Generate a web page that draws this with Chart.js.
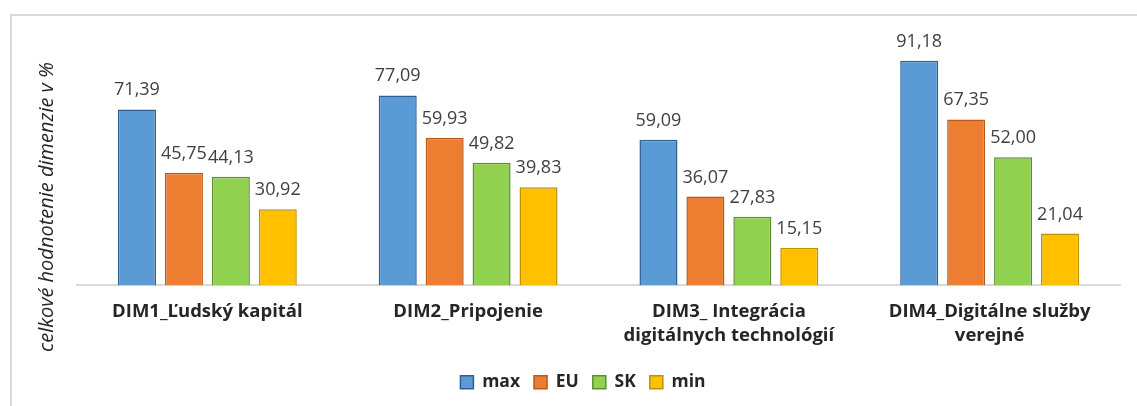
<!DOCTYPE html>
<html>
<head>
<meta charset="utf-8">
<script src="https://cdn.jsdelivr.net/npm/chart.js@4.4.1/dist/chart.umd.min.js"></script>
<style>
  html, body { margin: 0; padding: 0; background: #fff; }
  #wrap { position: relative; width: 1137px; height: 406px; overflow: hidden; }
  #frame { position: absolute; left: 10px; top: 14px; width: 1200px; height: 500px;
           border-top: 2px solid #d9d9d9; border-left: 2px solid #d9d9d9; }
  canvas { position: absolute; left: 0; top: 0; }
</style>
</head>
<body>
<div id="wrap">
  <div id="frame"></div>
  <canvas id="chart" width="1137" height="406"></canvas>
</div>
<script>
// --- data ---
const categories = [
    'DIM1_Ľudský kapitál',
    'DIM2_Pripojenie',
    ['DIM3_ Integrácia', 'digitálnych technológií'],
    ['DIM4_Digitálne služby', 'verejné']
];
const maxValues = [71.39, 77.09, 59.09, 91.18];
const euValues  = [45.75, 59.93, 36.07, 67.35];
const skValues  = [44.13, 49.82, 27.83, 52.00];
const minValues = [30.92, 39.83, 15.15, 21.04];
const yTitle = 'celkové hodnotenie dimenzie v %';

const FONT = '"Open Sans", sans-serif';

// data labels (decimal comma) + the y title, centred on the frame not the plot
const valueLabels = {
    id: 'valueLabels',
    afterDatasetsDraw(chart) {
        const ctx = chart.ctx;
        ctx.save();
        ctx.font = '18px ' + FONT;
        ctx.fillStyle = '#404040';
        ctx.textAlign = 'center';
        ctx.textBaseline = 'alphabetic';
        chart.data.datasets.forEach((ds, i) => {
            chart.getDatasetMeta(i).data.forEach((bar, j) => {
                ctx.fillText(ds.data[j].toFixed(2).replace('.', ','), bar.x, bar.y - 14);
            });
        });
        ctx.translate(47, 207);
        ctx.rotate(-Math.PI / 2);
        ctx.textBaseline = 'middle';
        ctx.fillStyle = '#262626';
        ctx.font = 'italic 20px ' + FONT;
        ctx.fillText(yTitle, 0, 0);
        ctx.restore();
    }
};

function mkSet(label, data, fill, edge) {
    return {
        label: label, data: data,
        backgroundColor: fill, borderColor: edge, borderWidth: 1.5,
        categoryPercentage: 0.72, barPercentage: 0.81
    };
}

new Chart(document.getElementById('chart'), {
    type: 'bar',
    data: {
        labels: categories,
        datasets: [
            mkSet('max', maxValues, '#5b9bd5', '#2f5f8f'),
            mkSet('EU', euValues, '#ed7d31', '#b9581a'),
            mkSet('SK', skValues, '#92d050', '#5e8c35'),
            mkSet('min', minValues, '#ffc000', '#c09000')
        ]
    },
    options: {
        responsive: false,
        animation: false,
        layout: { padding: { left: 46, right: 17, top: 39, bottom: 5 } },
        plugins: {
            tooltip: { enabled: false },
            legend: {
                position: 'bottom',
                labels: {
                    boxWidth: 13, boxHeight: 13, padding: 14,
                    color: '#262626',
                    font: { family: FONT, size: 17.5, weight: 'bold' }
                }
            }
        },
        scales: {
            x: {
                grid: { display: false },
                border: { display: true, color: '#d9d9d9', width: 2 },
                ticks: {
                    color: '#262626', padding: 6, maxRotation: 0,
                    font: { family: FONT, size: 18.5, weight: 'bold', lineHeight: 1.3 }
                },
                afterFit(scale) { scale.height += 6; }
            },
            y: {
                min: 0, max: 100,
                grid: { display: false },
                border: { display: false },
                ticks: { display: false },
                afterFit(scale) { scale.width = 31; }
            }
        }
    },
    plugins: [valueLabels]
});
</script>
</body>
</html>
